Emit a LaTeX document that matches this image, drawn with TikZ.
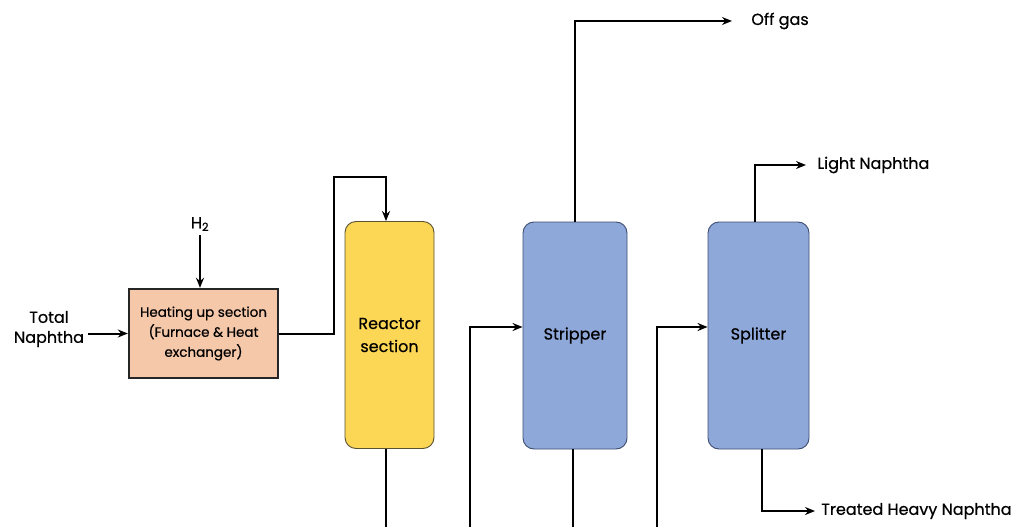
\documentclass[tikz,border=0pt]{standalone}
\usepackage{fontspec}
\setmainfont{Poppins}[FakeBold=0.6]
\usetikzlibrary{positioning,arrows.meta}
\usepackage{xcolor}
\definecolor{durazno}{HTML}{F6C8AA}
\definecolor{amarillo}{HTML}{FCD655}
\definecolor{azul}{HTML}{8EA8DA}
\definecolor{bordeazul}{HTML}{3E4C70}
\definecolor{bordeamar}{HTML}{5A5230}

\begin{document}
\begin{tikzpicture}[x=1pt, y=-1pt, font=\fontsize{16}{20}\selectfont, >={Stealth[length=10pt,width=8pt]},
      line width=2pt,
      horno/.style={draw=black!85, fill=durazno, minimum width=149pt, minimum height=89pt,
                align=center, line width=2.4pt, inner sep=2pt, font=\fontsize{13.5}{20}\selectfont},
      torre/.style={draw, rounded corners=11pt, minimum height=227pt, align=center,
                line width=0.9pt, font=\fontsize{16}{23}\selectfont},
      lbl/.style={align=center}]
    \useasboundingbox (0,0) rectangle (1030,527);
    \node[horno] (heat) at (203.5,333.5) {Heating up section\\(Furnace \& Heat\\exchanger)};
    \node[torre, draw=bordeamar, fill=amarillo, minimum width=89pt] (reactor) at (389.5,335)
         {Reactor\\section};
    \node[torre, draw=bordeazul, fill=azul, minimum width=104pt] (stripper) at (575,335.5) {Stripper};
    \node[torre, draw=bordeazul, fill=azul, minimum width=101pt] (splitter) at (758.5,335.5) {Splitter};
    \node[lbl] (feed) at (49,329) {Total\\Naphtha};
    \node[lbl] (h2) at (200,224) {H\textsubscript{2}};
    \coordinate (gasend) at (732,21);
    \coordinate (lightend) at (806,165);
    \coordinate (heavyend) at (815,511);
    \coordinate (sfeed) at (470,527);
    \coordinate (pfeed) at (657,527);
    \node[lbl, right=15pt of gasend] (offgas) {Off gas};
    \node[lbl, right=7pt of lightend] (light) {Light Naphtha};
    \node[lbl, right=2pt of heavyend] (heavy) {Treated Heavy Naphtha};
    \draw[->] (feed.east |- heat.west) -- (heat.west);
    \draw[->] (h2.south) -- (h2 |- heat.north);
    \draw[->] (heat.east) -| ++(55,-157) -| ([xshift=-3.5pt]reactor.north);
    \draw ([xshift=-3.5pt]reactor.south) -- ++(0,80);
    \draw[->] (sfeed) |- ([yshift=8.5pt]stripper.west);
    \draw[->] (stripper.north) |- (gasend);
    \draw ([xshift=-2pt]stripper.south) -- ++(0,80);
    \draw[->] (pfeed) |- ([yshift=8.5pt]splitter.west);
    \draw[->] ([xshift=-3.5pt]splitter.north) |- (lightend);
    \draw[->] ([xshift=3.5pt]splitter.south) |- (heavyend);
  \end{tikzpicture}
\end{document}
